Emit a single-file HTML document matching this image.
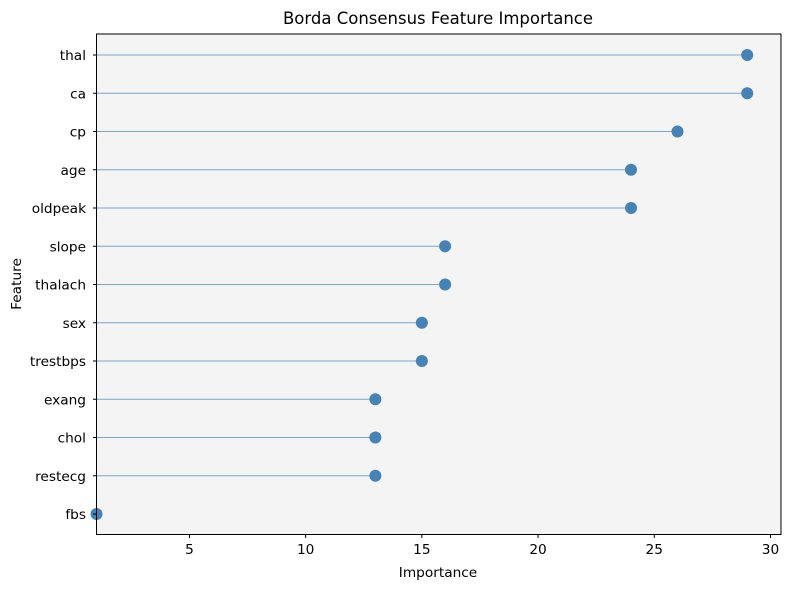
<!DOCTYPE html>
<html><head><meta charset="utf-8"><style>
body{margin:0;background:#fff;font-family:"Liberation Sans","DejaVu Sans",sans-serif}
svg text{font-family:"DejaVu Sans","Liberation Sans",sans-serif;font-size:13.7px;fill:#000}
</style></head><body>
<svg width="789" height="590" xmlns="http://www.w3.org/2000/svg">
<text x="438" y="24" text-anchor="middle" style="font-size:16.5px">Borda Consensus Feature Importance</text>
<rect x="96.5" y="34" width="684.5" height="500.5" fill="#f4f4f4"/>
<g id="g"></g>
<rect x="96.5" y="34" width="684.5" height="500.5" fill="none" stroke="#000" stroke-width="1"/>
<text x="438" y="577" text-anchor="middle">Importance</text>
<text x="21" y="284" text-anchor="middle" transform="rotate(-90 21 284)">Feature</text>
</svg>
<script>
const features=["thal","ca","cp","age","oldpeak","slope","thalach","sex","trestbps","exang","chol","restecg","fbs"];
const values=[29,29,26,24,24,16,16,15,15,13,13,13,1];
const xTicks=[5,10,15,20,25,30];
const NS="http://www.w3.org/2000/svg";
const g=document.getElementById('g');
function X(v){return 96.5+(v-1)*23.24;}
function Y(i){return 55+i*38.25;}
function mk(t,a){const e=document.createElementNS(NS,t);for(const k in a)e.setAttribute(k,a[k]);g.appendChild(e);return e;}
features.forEach((f,i)=>{
 const l=mk('line',{x1:96.5,x2:X(values[i]),y1:Y(i),y2:Y(i),stroke:'#7aa6cf','stroke-width':1});
 
 
 const c=mk('circle',{cx:X(values[i]),cy:Y(i),r:6,fill:'#4682b4'});
 
 
 const tk=mk('line',{x1:93,x2:96.5,y1:Y(i),y2:Y(i),stroke:'#000'});
 
 
 const t=mk('text',{x:86,y:Y(i)+5,'text-anchor':'end'});t.textContent=f;
 
 
});
xTicks.forEach(v=>{
 const tk=mk('line',{x1:X(v),x2:X(v),y1:534.5,y2:538,stroke:'#000'});
 
 
 const t=mk('text',{x:X(v),y:554,'text-anchor':'middle'});t.textContent=v;
 
 
});
</script>
</body></html>
